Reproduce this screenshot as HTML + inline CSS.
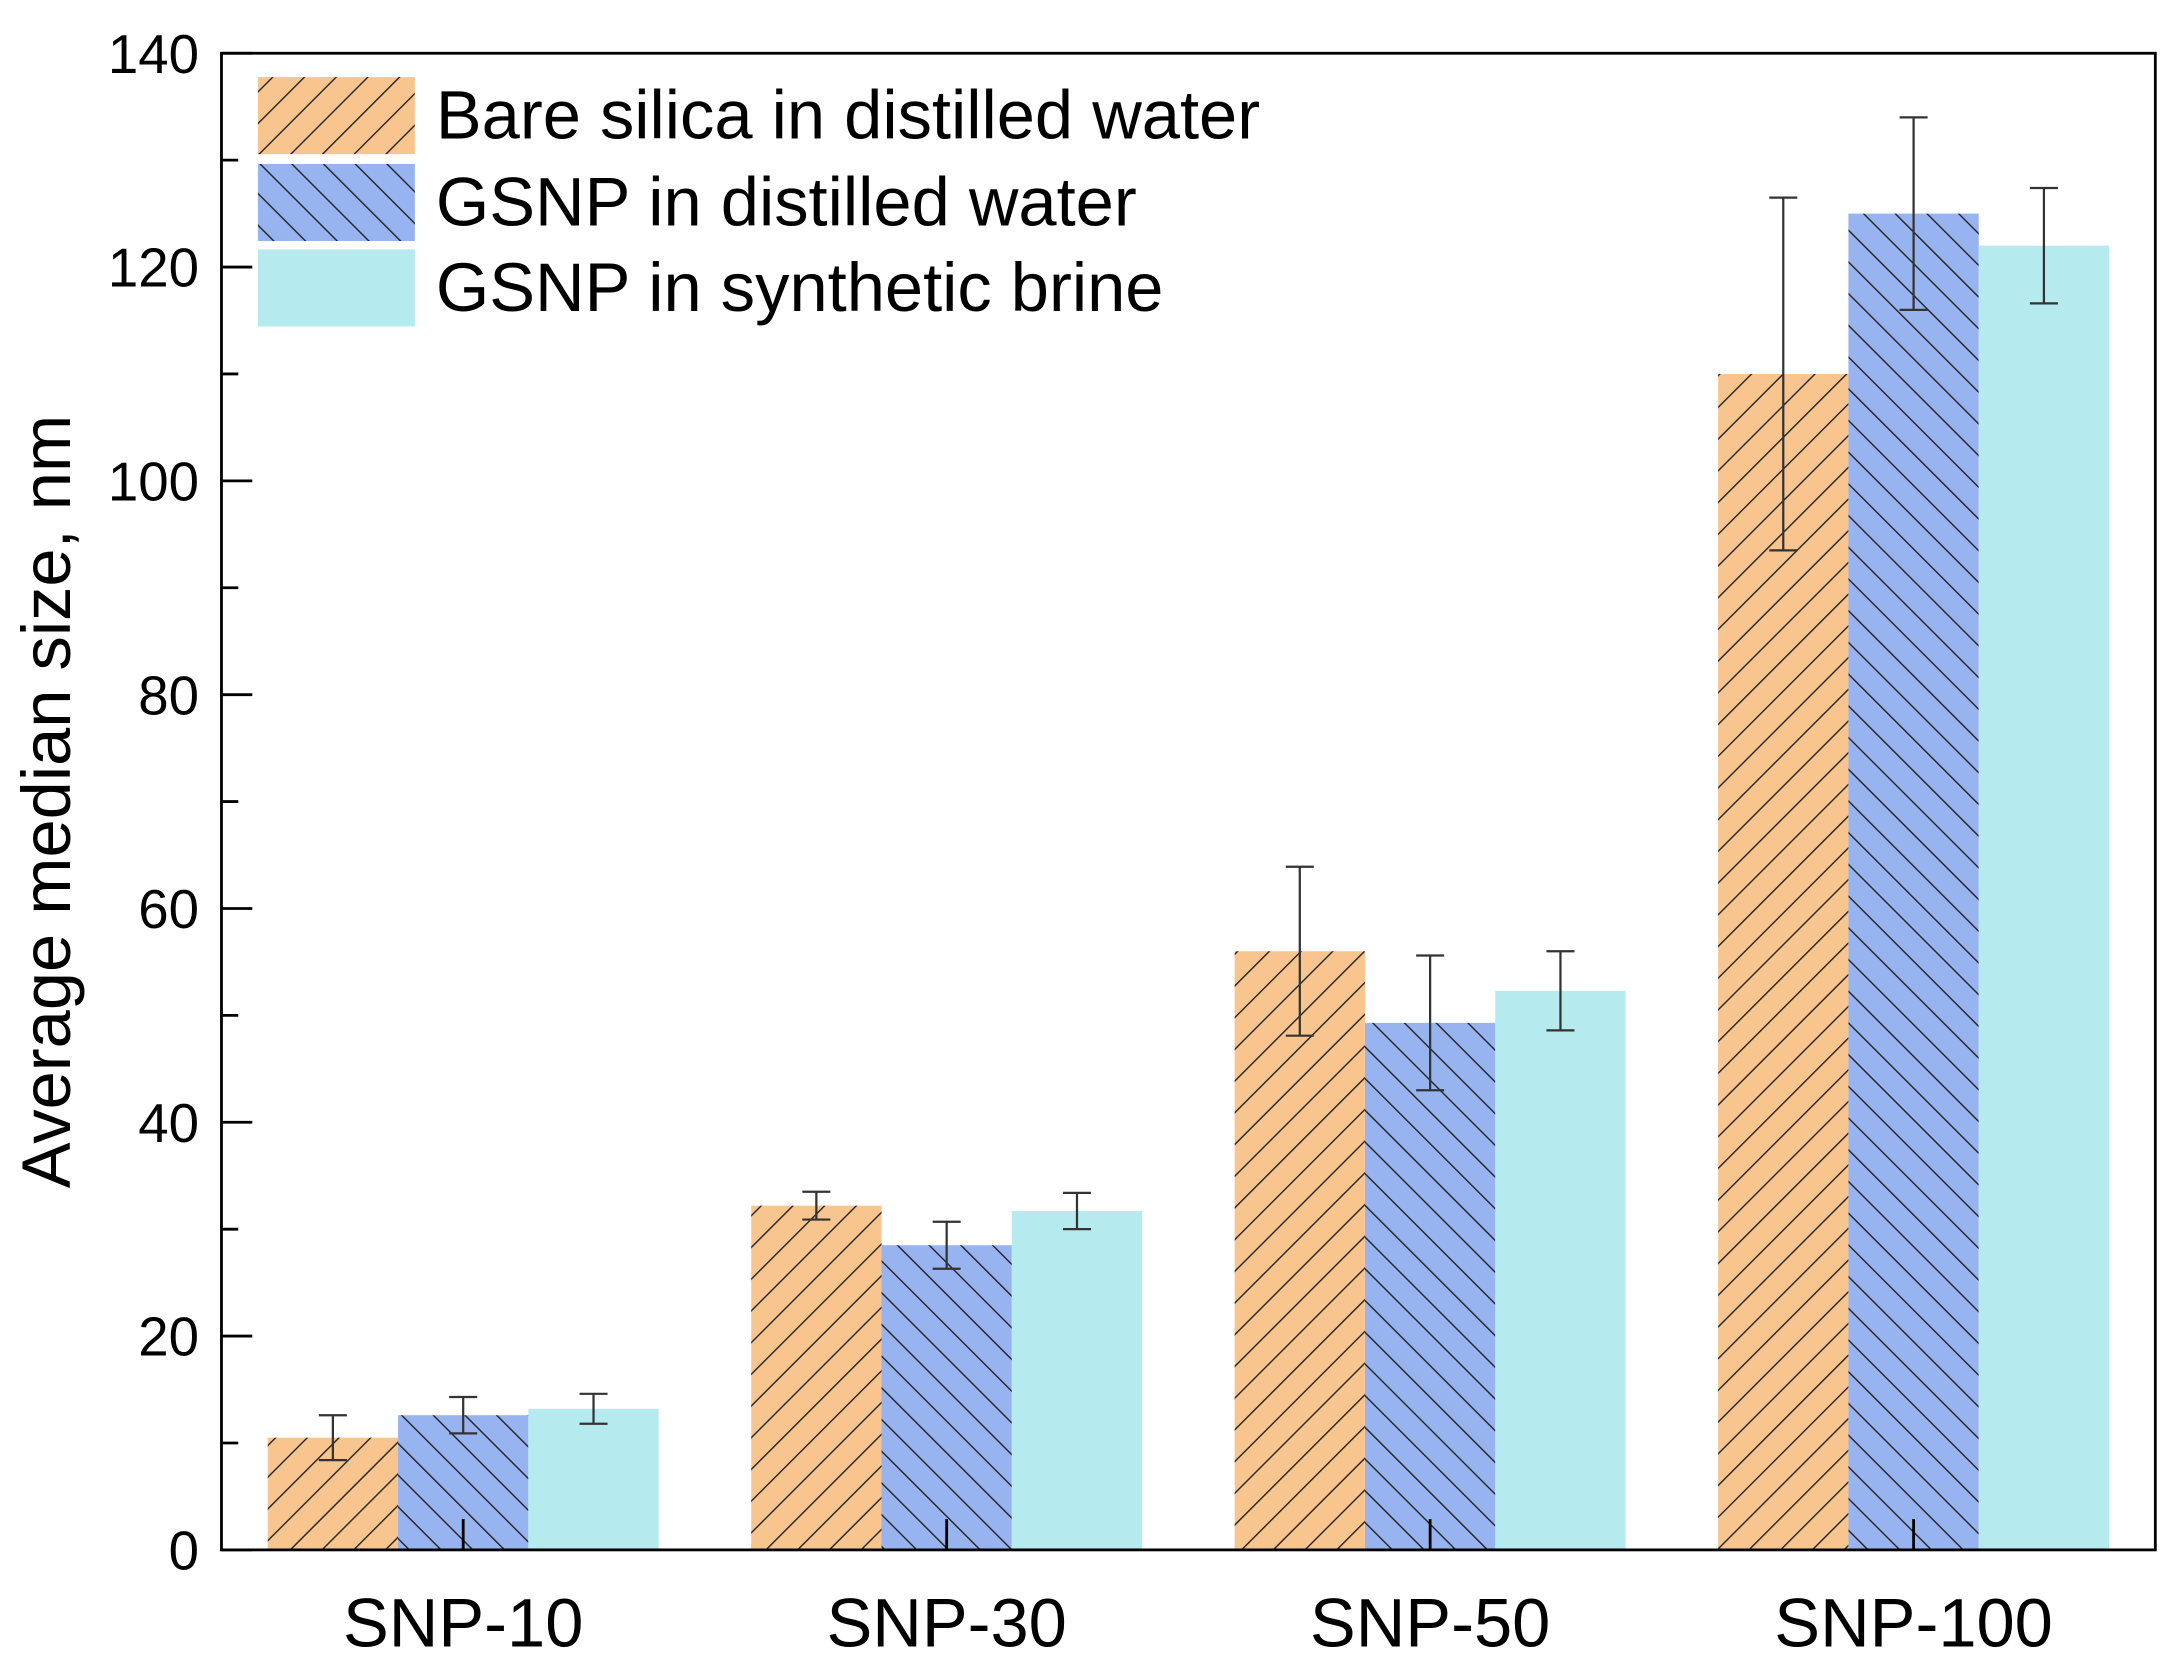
<!DOCTYPE html>
<html><head><meta charset="utf-8"><style>
html,body{margin:0;padding:0;background:#fff}
svg{display:block}
text{font-family:"Liberation Sans",Arial,sans-serif;fill:#000}
</style></head><body>
<svg id="chart" width="2175" height="1662" viewBox="0 0 1552 1186" xmlns="http://www.w3.org/2000/svg">
<defs>
<pattern id="hatchFwd" patternUnits="userSpaceOnUse" width="16" height="16" patternTransform="rotate(45)">
<rect width="16" height="16" fill="#F9C58F"/><line x1="0" y1="0" x2="0" y2="16" stroke="#222" stroke-width="2"/></pattern>
<pattern id="hatchBack" patternUnits="userSpaceOnUse" width="16" height="16" patternTransform="rotate(-45)">
<rect width="16" height="16" fill="#98B4F0"/><line x1="0" y1="0" x2="0" y2="16" stroke="#222" stroke-width="2"/></pattern>
</defs>
<g id="plot"></g>
</svg>
<script>
const categories=["SNP-10","SNP-30","SNP-50","SNP-100"];
const bareValues=[10.5,32.2,56,110];
const bareErrors=[2.1,1.3,7.9,16.5];
const gsnpWaterValues=[12.6,28.5,49.3,125];
const gsnpWaterErrors=[1.7,2.2,6.3,9];
const gsnpBrineValues=[13.2,31.7,52.3,122];
const gsnpBrineErrors=[1.4,1.7,3.7,5.4];
const yTicks=[0,20,40,60,80,100,120,140];
const seriesNames=["Bare silica in distilled water","GSNP in distilled water","GSNP in synthetic brine"];

const NS="http://www.w3.org/2000/svg";
const L=158,R=1538,T=38,B=1106,YMAX=140;
const g=document.getElementById('plot');
function y(v){return B-(v/YMAX)*(B-T);}
const band=(R-L)/categories.length, bw=93;
function x(i,s){return L+band*i+band/2+(s-1)*bw-bw/2;}
function mk(tag,attrs,parent){const e=document.createElementNS(NS,tag);for(const k in attrs)e.setAttribute(k,attrs[k]);(parent||g).appendChild(e);return e;}

const fills=["url(#hatchFwd)","url(#hatchBack)","#B5EBEF"];
const vals=[bareValues,gsnpWaterValues,gsnpBrineValues];
const errs=[bareErrors,gsnpWaterErrors,gsnpBrineErrors];
const keys=["bare","gsnp-water","gsnp-brine"];
for(let s=0;s<3;s++){
  for(let i=0;i<categories.length;i++){
    const v=vals[s][i];
    const r=mk('rect',{x:x(i,s),y:y(v),width:bw,height:y(0)-y(v),fill:fills[s]});
    
    
  }
}
for(let s=0;s<3;s++){
  for(let i=0;i<categories.length;i++){
    const v=vals[s][i],e=errs[s][i],cx=x(i,s)+bw/2;
    const eg=mk('g',{stroke:'#333','stroke-width':1.6});
    
    
    mk('line',{x1:cx,x2:cx,y1:y(v+e),y2:y(v-e)},eg);
    mk('line',{x1:cx-10,x2:cx+10,y1:y(v+e),y2:y(v+e)},eg);
    mk('line',{x1:cx-10,x2:cx+10,y1:y(v-e),y2:y(v-e)},eg);
  }
}
const fr=mk('rect',{x:L,y:T,width:R-L,height:B-T,fill:'none',stroke:'#000','stroke-width':2});


for(let v=0;v<=YMAX;v+=10){
  mk('line',{x1:L,x2:L+(v%20===0?22:12),y1:y(v),y2:y(v),stroke:'#000','stroke-width':2});
}
yTicks.forEach(v=>{
  const t=mk('text',{x:L-16,y:y(v)+14,'text-anchor':'end','font-size':39});
  t.textContent=v;
  
  
});
categories.forEach((c,i)=>{
  const cx=L+band*i+band/2;
  mk('line',{x1:cx,x2:cx,y1:B,y2:B-22,stroke:'#000','stroke-width':2});
  const t=mk('text',{x:cx,y:1175,'text-anchor':'middle','font-size':49});
  t.textContent=c;
  
  
});
const yt=mk('text',{x:0,y:0,transform:'translate(50,572) rotate(-90)','text-anchor':'middle','font-size':49});
yt.textContent='Average median size, nm';


const lg=mk('g',{});


const ly=[55,117,178];
for(let s=0;s<3;s++){
  const le=mk('g',{},lg);
  
  
  mk('rect',{x:184,y:ly[s],width:112,height:55,fill:fills[s]},le);
  const t=mk('text',{x:311,y:ly[s]+44,'font-size':49},le);
  t.textContent=seriesNames[s];
}
</script>
</body></html>
